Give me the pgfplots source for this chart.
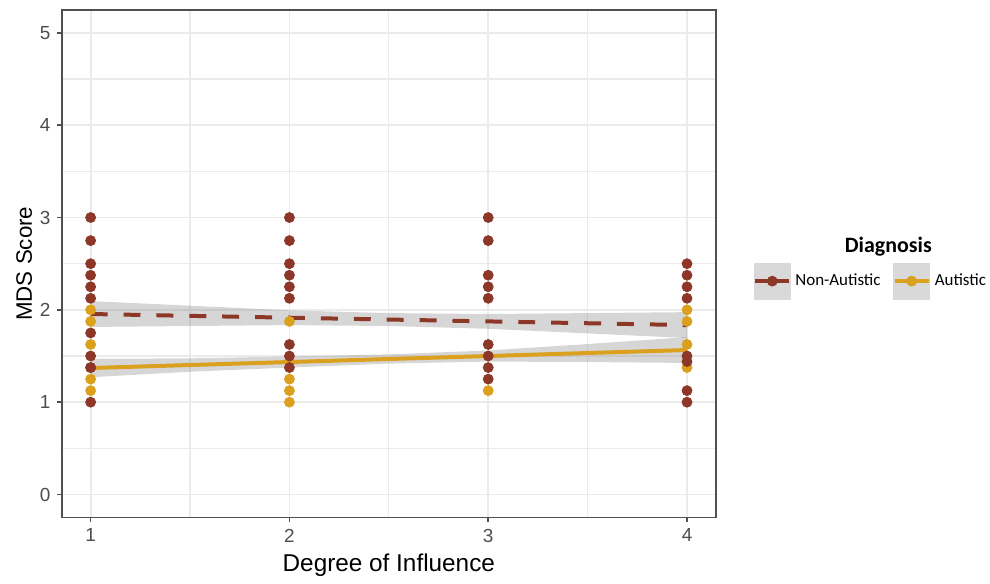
\documentclass[border=0pt]{standalone}
\usepackage{fontspec}
\setmainfont{Liberation Sans}
\newfontfamily\legfont{Carlito}
\usepackage{pgfplots}
\pgfplotsset{compat=1.18}
\usetikzlibrary{calc}
\definecolor{nared}{RGB}{140,55,40}
\definecolor{augold}{RGB}{218,160,30}
\definecolor{gridc}{RGB}{235,235,235}
\definecolor{framec}{RGB}{80,80,80}
\definecolor{tickc}{RGB}{77,77,77}
\begin{document}
\begin{tikzpicture}
\begin{axis}[
  scale only axis,
  width=328pt, height=254.5pt,
  xmin=0.855, xmax=4.145,
  ymin=-0.248, ymax=5.248,
  xtick={1,2,3,4}, ytick={0,1,2,3,4,5},
  minor xtick={1.5,2.5,3.5}, minor ytick={0.5,1.5,2.5,3.5,4.5},
  grid=both,
  major grid style={gridc, line width=0.9pt},
  minor grid style={gridc, line width=0.6pt},
  axis line style={framec, line width=0.7pt},
  tick style={framec, line width=0.75pt},
  major tick length=2.2pt,
  minor tick length=0pt,
  tick align=outside,
  xtick pos=bottom, ytick pos=left,
  /pgf/number format/assume math mode=true,
  tick label style={font=\fontsize{9.5pt}{11pt}\selectfont, text=tickc},
  xlabel={Degree of Influence},
  ylabel={MDS Score},
  xlabel style={font=\fontsize{12.2pt}{14pt}\selectfont, yshift=1pt},
  ylabel style={font=\fontsize{11.2pt}{13pt}\selectfont, yshift=-3pt},
  clip=false,
  legend style={draw=none, fill=none, inner sep=0pt, at={(rel axis cs:1.0564,0.4656)}, anchor=west,
     font=\legfont\fontsize{8.5pt}{10pt}\selectfont, /tikz/every even column/.append style={column sep=4pt}},
  legend columns=2,
  legend cell align=left,
]
% points
\addplot[only marks, mark=*, mark size=2.5pt, color=nared, forget plot] coordinates {
(1,3) (1,2.75) (1,2.5) (1,2.375) (1,2.25) (1,2.125) (1,1.75) (1,1.5) (1,1.375) (1,1.0)
(2,3) (2,2.75) (2,2.5) (2,2.375) (2,2.25) (2,2.125) (2,1.625) (2,1.5) (2,1.375)
(3,3) (3,2.75) (3,2.375) (3,2.25) (3,2.125) (3,1.625) (3,1.5) (3,1.375) (3,1.25)
(4,2.5) (4,2.375) (4,2.25) (4,2.125) (4,1.5) (4,1.125) (4,1.0)
};
\addplot[only marks, mark=*, mark size=2.5pt, color=augold, forget plot] coordinates {
(1,2.0) (1,1.875) (1,1.625) (1,1.25) (1,1.125)
(2,1.875) (2,1.25) (2,1.125) (2,1.0)
(3,1.125)
(4,2.0) (4,1.875) (4,1.625) (4,1.375)
};
\addplot[only marks, mark=*, mark size=2.5pt, color=nared, forget plot] coordinates {(1,1.375) (4,1.44)};
% confidence bands
\addplot[fill=gray, fill opacity=0.32, draw=none, forget plot] coordinates {
(1,2.095) (1.5,2.045) (2,1.995) (2.5,1.965) (3,1.955) (3.5,1.965) (4,1.975)
(4,1.695) (3.5,1.745) (3,1.795) (2.5,1.825) (2,1.835) (1.5,1.825) (1,1.815)
} -- cycle;
\addplot[fill=gray, fill opacity=0.32, draw=none, forget plot] coordinates {
(1,1.47) (1.5,1.475) (2,1.495) (2.5,1.518) (3,1.56) (3.5,1.63) (4,1.705)
(4,1.425) (3.5,1.435) (3,1.44) (2.5,1.418) (2,1.375) (1.5,1.33) (1,1.27)
} -- cycle;
% fit lines
\addplot[nared, line width=2pt, dash pattern=on 8.5pt off 8pt, forget plot] coordinates {(1,1.955) (4,1.835)};
\addplot[augold, line width=2pt, forget plot] coordinates {(1,1.37) (4,1.565)};
% legend
\addlegendimage{legend image code/.code={
  \fill[black!15] (0pt,-9pt) rectangle (18pt,9pt);
  \draw[nared, line width=2.2pt] (0.5pt,0pt) -- (17.5pt,0pt);
  \fill[nared] (9pt,0pt) circle (2.5pt);}}
\addlegendentry{Non-Autistic}
\addlegendimage{legend image code/.code={
  \fill[black!15] (0pt,-9pt) rectangle (18pt,9pt);
  \draw[augold, line width=2.2pt] (0.5pt,0pt) -- (17.5pt,0pt);
  \fill[augold] (9pt,0pt) circle (2.5pt);}}
\addlegendentry{Autistic}
\node[font=\legfont\bfseries\fontsize{11pt}{12pt}\selectfont] at (rel axis cs:1.2637,0.534) {Diagnosis};
\end{axis}
\path (current axis.south west) ++(-31pt,-30pt) rectangle ($(current axis.north east)+(136pt,5pt)$);
\end{tikzpicture}
\end{document}
